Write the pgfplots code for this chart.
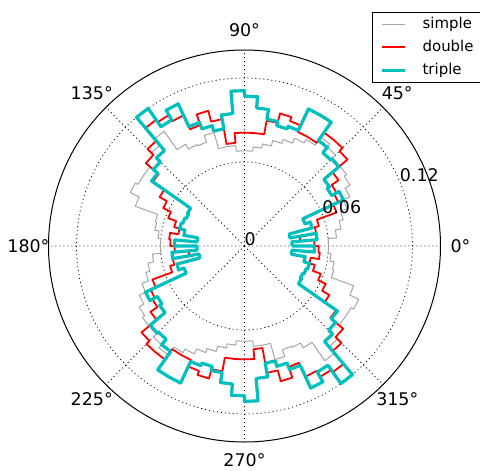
\documentclass[border=0pt]{standalone}
\usepackage{fontspec}
\setmainfont{DejaVu Sans}
\usepackage{pgfplots}
\pgfplotsset{compat=1.18}
\usepgfplotslibrary{polar}
\definecolor{mcyan}{rgb}{0,0.75,0.75}
\definecolor{mgray}{rgb}{0.65,0.65,0.65}
\begin{document}
\begin{tikzpicture}
\begin{polaraxis}[
  at={(0,0)}, anchor=center,
  scale only axis, width=392bp, height=392bp,
  xmin=0, xmax=360, ymin=0, ymax=0.14,
  xtick={0,45,...,315}, ytick={0.06,0.12},
  xticklabels={}, yticklabels={},
  major tick length=0pt,
  grid=major,
  major grid style={black, line width=0.8bp, dash pattern=on 1bp off 3bp},
  axis line style={black, line width=1bp},
  y axis line style={draw=none},
  clip=false,
  legend style={at={(0.8253,1.097)}, anchor=north west, draw=black, line width=0.8bp, fill=white,
     font=\fontsize{15}{18}\selectfont, inner xsep=8bp, inner ysep=4bp, row sep=7bp,
     nodes={inner sep=1bp, text height=11bp, text depth=3bp},
     /tikz/every odd column/.append style={column sep=15bp}},
  legend cell align=left,
  legend image code/.code={\draw[#1] (0bp,0bp) -- (23bp,0bp);},
]
\addplot[draw=mgray, line width=1bp, mark=none, line join=round] coordinates {
(0,.060)(5,.060)(5,.066)(10,.066)(10,.070)(15,.070)(15,.073)(20,.073)(20,.078)(25,.078)
(25,.083)(30,.083)(30,.087)(35,.087)(35,.089)(40,.089)(40,.089)(45,.089)(45,.092)(50,.092)
(50,.095)(55,.095)(55,.088)(60,.088)(60,.085)(65,.085)(65,.081)(70,.081)(70,.078)(75,.078)
(75,.074)(80,.074)(80,.071)(85,.071)(85,.068)(90,.068)(90,.068)(95,.068)(95,.072)(100,.072)
(100,.072)(105,.072)(105,.084)(110,.084)(110,.079)(115,.079)(115,.080)(120,.080)(120,.084)(125,.084)
(125,.100)(130,.100)(130,.094)(135,.094)(135,.092)(140,.092)(140,.088)(145,.088)(145,.088)(150,.088)
(150,.090)(155,.090)(155,.083)(160,.083)(160,.066)(165,.066)(165,.065)(170,.065)(170,.062)(175,.062)
(175,.060)(180,.060)
(180,.060)(185,.060)(185,.066)(190,.066)(190,.070)(195,.070)(195,.073)(200,.073)(200,.078)(205,.078)
(205,.083)(210,.083)(210,.087)(215,.087)(215,.089)(220,.089)(220,.089)(225,.089)(225,.092)(230,.092)
(230,.095)(235,.095)(235,.088)(240,.088)(240,.085)(245,.085)(245,.081)(250,.081)(250,.078)(255,.078)
(255,.074)(260,.074)(260,.071)(265,.071)(265,.068)(270,.068)(270,.068)(275,.068)(275,.072)(280,.072)
(280,.072)(285,.072)(285,.084)(290,.084)(290,.079)(295,.079)(295,.080)(300,.080)(300,.084)(305,.084)
(305,.100)(310,.100)(310,.094)(315,.094)(315,.092)(320,.092)(320,.088)(325,.088)(325,.088)(330,.088)
(330,.090)(335,.090)(335,.083)(340,.083)(340,.066)(345,.066)(345,.065)(350,.065)(350,.062)(355,.062)
(355,.060)(360,.060)
};
\addlegendentry{simple}
\addplot[draw=red, line width=1.8bp, mark=none, line join=round] coordinates {
(0,.050)(5,.050)(5,.040)(10,.040)(10,.052)(15,.052)(15,.055)(20,.055)(20,.070)(25,.070)
(25,.074)(30,.074)(30,.076)(35,.076)(35,.082)(40,.082)(40,.096)(45,.096)(45,.099)(50,.099)
(50,.099)(55,.099)(55,.090)(60,.090)(60,.090)(65,.090)(65,.095)(70,.095)(70,.098)(75,.098)
(75,.091)(80,.091)(80,.081)(85,.081)(85,.081)(90,.081)(90,.081)(95,.081)(95,.074)(100,.074)
(100,.092)(105,.092)(105,.100)(110,.100)(110,.092)(115,.092)(115,.103)(120,.103)(120,.108)(125,.108)
(125,.110)(130,.110)(130,.098)(135,.098)(135,.092)(140,.092)(140,.080)(145,.080)(145,.070)(150,.070)
(150,.064)(155,.064)(155,.058)(160,.058)(160,.052)(165,.052)(165,.048)(170,.048)(170,.054)(175,.054)
(175,.053)(180,.053)
(180,.050)(185,.050)(185,.040)(190,.040)(190,.052)(195,.052)(195,.055)(200,.055)(200,.070)(205,.070)
(205,.074)(210,.074)(210,.076)(215,.076)(215,.082)(220,.082)(220,.096)(225,.096)(225,.099)(230,.099)
(230,.099)(235,.099)(235,.090)(240,.090)(240,.090)(245,.090)(245,.095)(250,.095)(250,.098)(255,.098)
(255,.091)(260,.091)(260,.081)(265,.081)(265,.081)(270,.081)(270,.081)(275,.081)(275,.074)(280,.074)
(280,.092)(285,.092)(285,.100)(290,.100)(290,.092)(295,.092)(295,.103)(300,.103)(300,.108)(305,.108)
(305,.110)(310,.110)(310,.098)(315,.098)(315,.092)(320,.092)(320,.080)(325,.080)(325,.070)(330,.070)
(330,.064)(335,.064)(335,.058)(340,.058)(340,.052)(345,.052)(345,.048)(350,.048)(350,.054)(355,.054)
(355,.053)(360,.053)(360,.050)
};
\addlegendentry{double}
\addplot[draw=mcyan, line width=3.2bp, mark=none, line join=round] coordinates {
(0,.034)(5,.034)(5,.052)(10,.052)(10,.033)(15,.033)(15,.050)(20,.050)(20,.046)(25,.046)
(25,.078)(30,.078)(30,.072)(35,.072)(35,.074)(40,.074)(40,.088)(45,.088)(45,.087)(50,.087)
(50,.092)(55,.092)(55,.108)(60,.108)(60,.108)(65,.108)(65,.091)(70,.091)(70,.089)(75,.089)
(75,.092)(80,.092)(80,.099)(85,.099)(85,.107)(90,.107)(90,.111)(95,.111)(95,.095)(100,.095)
(100,.085)(105,.085)(105,.089)(110,.089)(110,.094)(115,.094)(115,.112)(120,.112)(120,.104)(125,.104)
(125,.120)(130,.120)(130,.089)(135,.089)(135,.085)(140,.085)(140,.081)(145,.081)(145,.047)(150,.047)
(150,.046)(155,.046)(155,.047)(160,.047)(160,.048)(165,.048)(165,.044)(170,.044)(170,.034)(175,.034)
(175,.050)(180,.050)
(180,.034)(185,.034)(185,.052)(190,.052)(190,.033)(195,.033)(195,.050)(200,.050)(200,.046)(205,.046)
(205,.078)(210,.078)(210,.072)(215,.072)(215,.074)(220,.074)(220,.088)(225,.088)(225,.087)(230,.087)
(230,.092)(235,.092)(235,.108)(240,.108)(240,.108)(245,.108)(245,.091)(250,.091)(250,.089)(255,.089)
(255,.092)(260,.092)(260,.099)(265,.099)(265,.107)(270,.107)(270,.111)(275,.111)(275,.095)(280,.095)
(280,.085)(285,.085)(285,.089)(290,.089)(290,.094)(295,.094)(295,.112)(300,.112)(300,.104)(305,.104)
(305,.120)(310,.120)(310,.089)(315,.089)(315,.085)(320,.085)(320,.081)(325,.081)(325,.047)(330,.047)
(330,.046)(335,.046)(335,.047)(340,.047)(340,.048)(345,.048)(345,.044)(350,.044)(350,.034)(355,.034)
(355,.050)(360,.050)(360,.034)
};
\addlegendentry{triple}
\begin{scope}[font=\fontsize{17.5}{21}\selectfont]
\node[inner sep=0pt] at (axis cs:0,0.1543) {0°};
\node[inner sep=0pt] at (axis cs:45,0.1543) {45°};
\node[inner sep=0pt] at (axis cs:90,0.1543) {90°};
\node[inner sep=0pt] at (axis cs:135,0.1543) {135°};
\node[inner sep=0pt] at (axis cs:180,0.1543) {180°};
\node[inner sep=0pt] at (axis cs:225,0.1543) {225°};
\node[inner sep=0pt] at (axis cs:270,0.1527) {270°};
\node[inner sep=0pt] at (axis cs:315,0.1543) {315°};
\node[anchor=south west, inner sep=0pt] at (axis cs:22.5,0) {0};
\node[anchor=south west, inner sep=0pt] at (axis cs:22.5,0.06) {0.06};
\node[anchor=south west, inner sep=0pt] at (axis cs:22.5,0.12) {0.12};
\end{scope}
\end{polaraxis}
\pgfresetboundingbox
\path[use as bounding box] (-244.5bp,-225bp) rectangle (235.5bp,246bp);
\end{tikzpicture}
\end{document}
